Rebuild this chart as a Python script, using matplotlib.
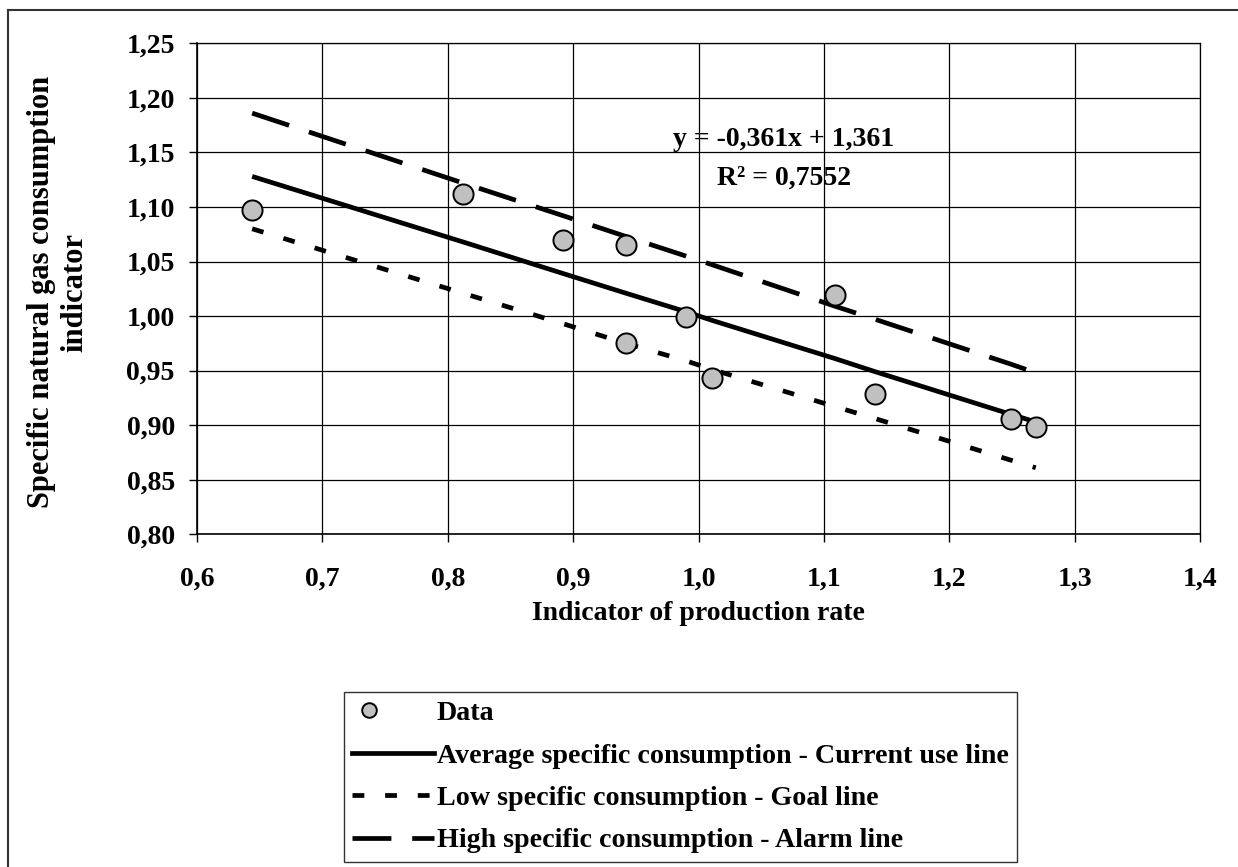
import matplotlib
matplotlib.use("Agg")
import matplotlib.pyplot as plt
from matplotlib.ticker import FuncFormatter
from matplotlib.lines import Line2D
from matplotlib.legend_handler import HandlerLine2D

plt.rcParams['font.family'] = ['Liberation Serif', 'DejaVu Serif']
plt.rcParams['font.weight'] = 'bold'
plt.rcParams['lines.scale_dashes'] = False

# ---- data ----
data_x = [0.644, 0.812, 0.892, 0.942, 0.990, 0.942, 1.011, 1.109, 1.141, 1.249, 1.269]
data_y = [1.097, 1.112, 1.070, 1.065, 0.999, 0.975, 0.943, 1.019, 0.929, 0.906, 0.898]

line_x = [0.644, 0.812, 0.892, 0.942, 0.990, 1.011, 1.109, 1.141, 1.249, 1.269]
avg_y = [1.128, 1.068, 1.039, 1.021, 1.004, 0.996, 0.961, 0.949, 0.910, 0.903]
low_y = [1.080, 1.021, 0.993, 0.975, 0.959, 0.951, 0.917, 0.906, 0.868, 0.861]
high_y = [1.186, 1.122, 1.092, 1.073, 1.055, 1.047, 1.009, 0.997, 0.956, 0.948]

x_ticks = [0.6, 0.7, 0.8, 0.9, 1.0, 1.1, 1.2, 1.3, 1.4]
y_ticks = [0.80, 0.85, 0.90, 0.95, 1.00, 1.05, 1.10, 1.15, 1.20, 1.25]

labels = ["Data",
          "Average specific consumption - Current use line",
          "Low specific consumption - Goal line",
          "High specific consumption - Alarm line"]
equation = "y = -0,361x + 1,361"
r2_text = "R\u00b2 = 0,7552"
x_label = "Indicator of production rate"
y_label = "Specific natural gas consumption\nindicator"

W, H = 1238, 867
fig = plt.figure(figsize=(W / 100, H / 100), dpi=100)


def px(x0, y0, x1, y1):
    return [x0 / W, 1 - y1 / H, (x1 - x0) / W, (y1 - y0) / H]


def fx(x):
    return x / W


def fy(y):
    return 1 - y / H


ax = fig.add_axes(px(197, 43.3, 1200, 534.3))
ax.set_xlim(0.6, 1.4)
ax.set_ylim(0.80, 1.25)
ax.set_xticks(x_ticks)
ax.set_yticks(y_ticks)
ax.xaxis.set_major_formatter(FuncFormatter(lambda v, p: f"{v:.1f}".replace('.', ',')))
ax.yaxis.set_major_formatter(FuncFormatter(lambda v, p: f"{v:.2f}".replace('.', ',')))
ax.tick_params(axis='both', direction='out', length=6, width=1.0, labelsize=20, color='black')
ax.tick_params(axis='y', pad=10)
ax.tick_params(axis='x', pad=17.5)
ax.grid(True, color='black', linewidth=0.9)
ax.set_axisbelow(True)
for s in ['left', 'bottom']:
    ax.spines[s].set_linewidth(1.2)
for s in ['top', 'right']:
    ax.spines[s].set_linewidth(0.9)

lw = 3.4
ax.plot(line_x, high_y, color='black', lw=lw, dashes=(28, 15), dash_capstyle='butt')
ax.plot(line_x, avg_y, color='black', lw=lw, solid_capstyle='butt')
ax.plot(line_x, low_y, color='black', lw=lw, dashes=(8.5, 15), dash_capstyle='butt')
ax.plot(data_x, data_y, linestyle='none', marker='o', markersize=14.5,
        markerfacecolor='#c0c0c0', markeredgecolor='black', markeredgewidth=1.4, zorder=5)

fig.text(fx(784), fy(140), equation, fontsize=20, ha='center', va='center')
fig.text(fx(784), fy(178), r2_text, fontsize=20, ha='center', va='center')

fig.text(fx(698.5), fy(613), x_label, fontsize=20, ha='center', va='center')
fig.text(fx(58.5), fy(292), y_label, fontsize=22,
         ha='center', va='center', rotation=90, linespacing=1.2, multialignment='center')


class LeftMarkerHandler(HandlerLine2D):
    def create_artists(self, legend, orig_handle, xdescent, ydescent, width, height,
                       fontsize, trans):
        arts = super().create_artists(legend, orig_handle, xdescent, ydescent, width,
                                      height, fontsize, trans)
        for a in arts:
            a.set_xdata([v - 0.3 * width for v in a.get_xdata()])
        return arts


data_handle = Line2D([], [], linestyle='none', marker='o', markersize=10.5,
                     markerfacecolor='#c0c0c0', markeredgecolor='black', markeredgewidth=1.4)
handles = [
    data_handle,
    Line2D([], [], color='black', lw=lw),
    Line2D([], [], color='black', lw=lw, dashes=(8.5, 15)),
    Line2D([], [], color='black', lw=lw, dashes=(28, 15)),
]
leg = fig.legend(handles, labels, loc='upper left',
                 bbox_to_anchor=(fx(344), fy(692)), bbox_transform=fig.transFigure,
                 fontsize=20.2, frameon=True, fancybox=False, edgecolor='black',
                 handlelength=2.9, handletextpad=0.1, labelspacing=0.6,
                 borderpad=0.3, borderaxespad=0, numpoints=1,
                 handler_map={data_handle: LeftMarkerHandler()})
leg.get_frame().set_linewidth(1.0)

# outer chart-area border (left and top edges visible in the reference)
fig.add_artist(Line2D([fx(8), fx(8)], [fy(10), 0], transform=fig.transFigure,
                      color='#333333', lw=1.5))
fig.add_artist(Line2D([fx(8), 1], [fy(10), fy(10)], transform=fig.transFigure,
                      color='#333333', lw=1.5))

fig.savefig("out.png", dpi=100)
